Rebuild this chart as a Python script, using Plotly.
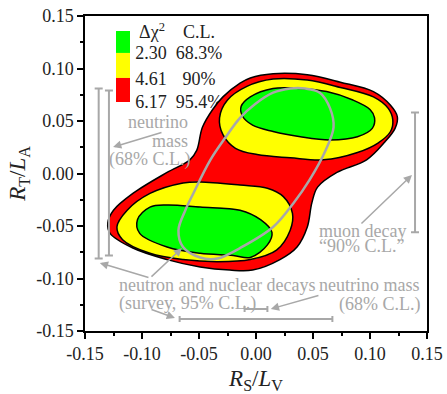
import plotly.graph_objects as go

# ---- data ----
red_x = [-0.005, 0.015, 0.045, 0.074, 0.103, 0.118, 0.124, 0.122, 0.113, 0.097, 0.071, 0.054, 0.049, 0.045, 0.036, 0.021, -0.003, -0.023, -0.049, -0.078, -0.108, -0.128, -0.130, -0.125, -0.108, -0.078, -0.058, -0.052, -0.047, -0.038, -0.029, -0.014]
red_y = [0.091, 0.095, 0.094, 0.087, 0.078, 0.065, 0.054, 0.043, 0.030, 0.013, 0.001, -0.013, -0.028, -0.051, -0.070, -0.082, -0.092, -0.092, -0.089, -0.082, -0.071, -0.057, -0.047, -0.035, -0.019, 0.001, 0.013, 0.022, 0.044, 0.061, 0.073, 0.086]

yel_up_x = [-0.008, 0.015, 0.045, 0.074, 0.103, 0.116, 0.120, 0.118, 0.107, 0.089, 0.059, 0.030, 0.001, -0.018, -0.029, -0.032, -0.025]
yel_up_y = [0.083, 0.090, 0.089, 0.082, 0.073, 0.062, 0.051, 0.040, 0.029, 0.020, 0.013, 0.015, 0.018, 0.024, 0.037, 0.053, 0.070]
yel_lo_x = [-0.064, -0.093, -0.113, -0.122, -0.117, -0.093, -0.064, -0.034, -0.005, 0.018, 0.030, 0.032, 0.024, 0.010, -0.014, -0.049]
yel_lo_y = [-0.009, -0.019, -0.035, -0.051, -0.063, -0.076, -0.082, -0.084, -0.082, -0.073, -0.054, -0.038, -0.022, -0.014, -0.011, -0.008]

grn_up_x = [-0.005, 0.015, 0.039, 0.062, 0.085, 0.100, 0.104, 0.102, 0.089, 0.065, 0.039, 0.015, -0.003, -0.012, -0.013]
grn_up_y = [0.073, 0.081, 0.081, 0.078, 0.070, 0.061, 0.053, 0.043, 0.035, 0.032, 0.035, 0.040, 0.046, 0.055, 0.064]
grn_lo_x = [-0.078, -0.093, -0.104, -0.102, -0.078, -0.049, -0.020, -0.005, 0.010, 0.014, 0.004, -0.014, -0.049]
grn_lo_y = [-0.030, -0.032, -0.044, -0.057, -0.070, -0.076, -0.078, -0.080, -0.068, -0.056, -0.044, -0.035, -0.032]

ell_x = [-0.014, -0.001, 0.015, 0.030, 0.043, 0.056, 0.065, 0.068, 0.061, 0.047, 0.033, 0.015, -0.014, -0.034, -0.049, -0.064, -0.068, -0.062, -0.055, -0.040, -0.027]
ell_y = [0.053, 0.066, 0.077, 0.081, 0.081, 0.077, 0.062, 0.044, 0.022, -0.006, -0.028, -0.051, -0.071, -0.081, -0.080, -0.070, -0.054, -0.035, -0.019, 0.013, 0.034]

# vertical constraint bars (centre, +err, -err)
vbar_x = [-0.138, -0.129, 0.1395]
vbar_y = [0.0, 0.0005, 0.001]
vbar_up = [0.081, 0.0785, 0.057]
vbar_dn = [0.081, 0.0785, 0.057]
# horizontal constraint bars
hbar_y = [-0.1386, -0.129]
hbar_x = [0.0, 0.0]
hbar_err = [0.067, 0.010]

legend_dchi2 = ["2.30", "4.61", "6.17"]
legend_cl = ["68.3%", "90%", "95.4%"]
legend_colors = ["#00ff00", "#ffff00", "#ff0000"]

tick_vals = [-0.15, -0.10, -0.05, 0.00, 0.05, 0.10, 0.15]
tick_text = ["-0.15", "-0.10", "-0.05", "0.00", "0.05", "0.10", "0.15"]

GRAY = "#a8a8a8"
FONT = "Liberation Serif"

def closed(a):
    return list(a) + [a[0]]

fig = go.Figure()

# legend text (drawn under the contours)
leg_row_y = [0.1129, 0.089, 0.0671]
fig.add_trace(go.Scatter(x=[-0.0912, -0.050], y=[0.133, 0.133], mode="text",
                         text=["Δχ<sup>2</sup>", "C.L."],
                         textfont=dict(family=FONT, size=18, color="#222"),
                         hoverinfo="skip", showlegend=False))
fig.add_trace(go.Scatter(x=[-0.092] * 3, y=leg_row_y, mode="text", text=legend_dchi2,
                         textfont=dict(family=FONT, size=18, color="#222"),
                         hoverinfo="skip", showlegend=False))
fig.add_trace(go.Scatter(x=[-0.050] * 3, y=leg_row_y, mode="text", text=legend_cl,
                         textfont=dict(family=FONT, size=18, color="#222"),
                         hoverinfo="skip", showlegend=False))

def region(xs, ys, color):
    fig.add_trace(go.Scatter(x=closed(xs), y=closed(ys), mode="lines", fill="toself",
                             fillcolor=color, line=dict(color="black", width=1.5, shape="spline", smoothing=1.0),
                             hoverinfo="skip", showlegend=False))

region(red_x, red_y, "#ff0000")
region(yel_up_x, yel_up_y, "#ffff00")
region(yel_lo_x, yel_lo_y, "#ffff00")
region(grn_up_x, grn_up_y, "#00ff00")
region(grn_lo_x, grn_lo_y, "#00ff00")

fig.add_trace(go.Scatter(x=closed(ell_x), y=closed(ell_y), mode="lines",
                         line=dict(color=GRAY, width=2.5, shape="spline", smoothing=1.0),
                         hoverinfo="skip", showlegend=False))

# error bars
fig.add_trace(go.Scatter(x=vbar_x, y=vbar_y, mode="markers",
                         marker=dict(size=1, color="rgba(0,0,0,0)"),
                         error_y=dict(type="data", array=vbar_up, arrayminus=vbar_dn, symmetric=False,
                                      color=GRAY, thickness=2, width=4),
                         hoverinfo="skip", showlegend=False))
fig.add_trace(go.Scatter(x=hbar_x, y=hbar_y, mode="markers",
                         marker=dict(size=1, color="rgba(0,0,0,0)"),
                         error_x=dict(type="data", array=hbar_err, color=GRAY, thickness=2, width=3),
                         hoverinfo="skip", showlegend=False))

shapes = []
box_x0, box_x1 = -0.1228, -0.1105
box_edges = [0.1357, 0.1148, 0.0910, 0.0681]
for i, c in enumerate(legend_colors):
    shapes.append(dict(type="rect", xref="x", yref="y", x0=box_x0, x1=box_x1,
                       y0=box_edges[i + 1], y1=box_edges[i], fillcolor=c, line=dict(width=0), layer="above"))

ann = []
def txt(x, y, s, anchor):
    ann.append(dict(x=x, y=y, xref="x", yref="y", text=s, showarrow=False, xanchor=anchor,
                    yanchor="middle", font=dict(family=FONT, size=18, color=GRAY)))

txt(-0.058, 0.049, "neutrino", "right")
txt(-0.058, 0.031, "mass", "right")
txt(-0.056, 0.013, "(68% C.L.)", "right")
txt(-0.1215, -0.1062, "neutron and nuclear decays", "left")
txt(-0.1215, -0.1235, "(survey, 95% C.L.)", "left")
txt(0.1460, -0.1062, "neutrino mass", "right")
txt(0.1455, -0.1252, "(68% C.L.)", "right")
txt(0.0535, -0.0548, "muon decay", "left")
txt(0.0535, -0.0692, "“90% C.L.”", "left")

def arrow(tx, ty, hx, hy):
    ann.append(dict(x=hx, y=hy, ax=tx, ay=ty, xref="x", yref="y", axref="x", ayref="y",
                    text="", showarrow=True, arrowhead=2, arrowsize=1.1, arrowwidth=1.5,
                    arrowcolor=GRAY, standoff=0))

arrow(-0.0816, 0.0395, -0.1254, 0.0252)
arrow(-0.0930, -0.0995, -0.1370, -0.0852)
arrow(-0.0930, -0.0995, -0.0649, -0.0710)
arrow(-0.0930, -0.1290, -0.0711, -0.1376)
arrow(0.0561, -0.1157, 0.0130, -0.1290)
arrow(0.0912, -0.0490, 0.1368, -0.0014)

axis_common = dict(range=[-0.15, 0.15], tickmode="array", tickvals=tick_vals, ticktext=tick_text,
                   automargin=False,
                   showline=True, linecolor="black", linewidth=1.5, mirror=True,
                   ticks="outside", ticklen=6, tickwidth=1.5, tickcolor="black",
                   showgrid=False, zeroline=False,
                   tickfont=dict(family=FONT, size=18, color="#222"),
                   minor=dict(ticks="outside", ticklen=3, tickwidth=1.5, tickcolor="black",
                              tick0=-0.15, dtick=0.025, showgrid=False))

fig.update_layout(
    width=447, height=394,
    margin=dict(l=85, r=20, t=16, b=63),
    paper_bgcolor="white", plot_bgcolor="white",
    showlegend=False,
    xaxis=dict(**axis_common,
               title=dict(text="<i>R</i><sub>S</sub>/<i>L</i><sub>V</sub>", standoff=8,
                          font=dict(family=FONT, size=23, color="#222"))),
    yaxis=dict(**axis_common,
               title=dict(text="<i>R</i><sub>T</sub>/<i>L</i><sub>A</sub>", standoff=4,
                          font=dict(family=FONT, size=23, color="#222"))),
    shapes=shapes,
    annotations=ann,
)

fig.write_html("out.html")
